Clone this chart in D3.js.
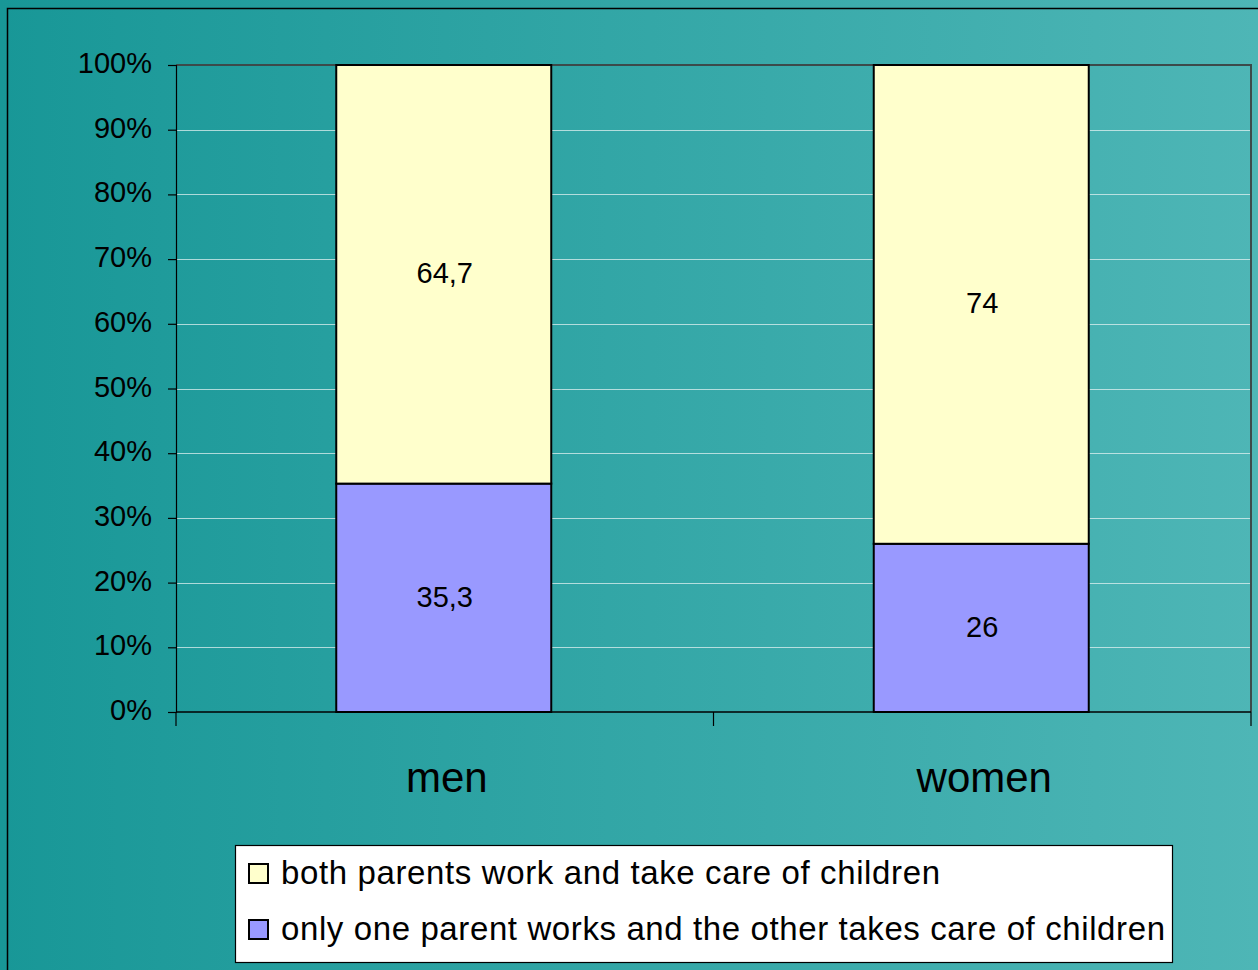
<!DOCTYPE html>
<html>
<head>
<meta charset="utf-8">
<script src="https://cdn.jsdelivr.net/npm/d3@7"></script>
<style>
  html, body { margin: 0; padding: 0; background: #2aa3a3; }
  svg { display: block; font-family: "Liberation Sans", Arial, sans-serif; }
</style>
</head>
<body>
<svg id="chart" width="1258" height="970"></svg>
<script>
// Chart data
const categories = ["men", "women"];
const onlyOneParent = [35.3, 26];
const bothParents = [64.7, 74];
const seriesLabels = [
  "both parents work and take care of children",
  "only one parent works and the other takes care of children"
];
const yTicks = [0, 10, 20, 30, 40, 50, 60, 70, 80, 90, 100];

const colors = { both: "#ffffcc", one: "#9999ff" };

const svg = d3.select("#chart");
const W = 1258, H = 970;
const plot = { left: 176, right: 1251, top: 65, bottom: 712 };

// Background gradient
const defs = svg.append("defs");
const grad = defs.append("linearGradient").attr("id", "bg")
  .attr("x1", "0%").attr("y1", "0%").attr("x2", "100%").attr("y2", "0%");
grad.append("stop").attr("offset", "0%").attr("stop-color", "#189797");
grad.append("stop").attr("offset", "100%").attr("stop-color", "#4eb6b6");
svg.append("rect").attr("width", W).attr("height", H).attr("fill", "url(#bg)");

// Outer frame
svg.append("path").attr("d", `M7.5,${H + 5} V8.5 H${W + 5}`)
  .attr("fill", "none").attr("stroke", "#000").attr("stroke-width", 1.5);

// Scales
const x = d3.scaleBand().domain(categories).range([plot.left, plot.right]);
const y = d3.scaleLinear().domain([0, 100]).range([plot.bottom, plot.top]);
const barW = x.bandwidth() * 0.4;

// Gridlines
svg.append("g").selectAll("line").data(yTicks.filter(d => d > 0 && d < 100)).join("line")
  .attr("x1", plot.left).attr("x2", plot.right)
  .attr("y1", d => Math.round(y(d)) + 0.5).attr("y2", d => Math.round(y(d)) + 0.5)
  .attr("stroke", "rgba(235,245,245,0.7)").attr("stroke-width", 1);

// Plot area frame (top and right)
svg.append("path")
  .attr("d", `M${plot.left},${y(100)} H${plot.right} V${plot.bottom}`)
  .attr("fill", "none").attr("stroke", "#3c4a4a").attr("stroke-width", 2);

// Stacked bars
const stackData = categories.map((c, i) => ({ cat: c, one: onlyOneParent[i], both: bothParents[i] }));
const stack = d3.stack().keys(["one", "both"])(stackData);
const fmt = d3.formatLocale({ decimal: ",", thousands: ".", grouping: [3], currency: ["", ""] }).format("~f");

const layers = svg.append("g").selectAll("g").data(stack).join("g")
  .attr("fill", d => colors[d.key]);
layers.selectAll("rect").data(d => d).join("rect")
  .attr("x", d => x(d.data.cat) + (x.bandwidth() - barW) / 2 - 1)
  .attr("y", d => y(d[1]))
  .attr("width", barW)
  .attr("height", d => y(d[0]) - y(d[1]))
  .attr("stroke", "#000").attr("stroke-width", 2);

// Segment value labels
const labels = svg.append("g").attr("font-size", 29).attr("text-anchor", "middle").attr("fill", "#000");
stack.forEach(layer => {
  layer.forEach(d => {
    labels.append("text")
      .attr("x", x(d.data.cat) + x.bandwidth() / 2)
      .attr("y", (y(d[0]) + y(d[1])) / 2)
      .attr("dy", "0.3em")
      .text(fmt(d[1] - d[0]));
  });
});

// Y axis
const yAxis = svg.append("g").attr("transform", `translate(${plot.left},0)`)
  .call(d3.axisLeft(y).tickValues(yTicks).tickFormat(d => d + "%").tickSize(8).tickPadding(16));
yAxis.select(".domain").attr("stroke", "#000").attr("stroke-width", 1.2);
yAxis.selectAll(".tick line").attr("stroke", "#000").attr("stroke-width", 1.2);
yAxis.selectAll(".tick text").attr("font-size", 29).attr("fill", "#000")
  .attr("font-family", "Liberation Sans, Arial, sans-serif").attr("dy", "0.26em");

// X axis line and category separators
svg.append("line").attr("x1", plot.left).attr("x2", plot.right)
  .attr("y1", plot.bottom).attr("y2", plot.bottom)
  .attr("stroke", "#000").attr("stroke-width", 1.5);
const sepX = categories.map(c => x(c)).concat([plot.right]);
svg.append("g").selectAll("line").data(sepX).join("line")
  .attr("x1", d => d).attr("x2", d => d)
  .attr("y1", plot.bottom).attr("y2", plot.bottom + 14)
  .attr("stroke", "#000").attr("stroke-width", 1.2);

// Category labels
svg.append("g").selectAll("text").data(categories).join("text")
  .attr("x", d => x(d) + x.bandwidth() / 2 + 2)
  .attr("y", 792)
  .attr("text-anchor", "middle").attr("font-size", 42).attr("fill", "#000")
  .text(d => d);

// Legend
const legend = svg.append("g");
legend.append("rect").attr("x", 235.5).attr("y", 845.5).attr("width", 937).attr("height", 117)
  .attr("fill", "#fff").attr("stroke", "#000").attr("stroke-width", 1.2);
const legendItems = [
  { label: seriesLabels[0], color: colors.both, width: 659 },
  { label: seriesLabels[1], color: colors.one, width: 884 }
];
legendItems.forEach((it, i) => {
  const rowY = 874 + i * 56;
  legend.append("rect").attr("x", 249).attr("y", rowY - 10).attr("width", 19).attr("height", 19)
    .attr("fill", it.color).attr("stroke", "#000").attr("stroke-width", 2);
  legend.append("text").attr("x", 281).attr("y", rowY + 10)
    .attr("font-size", 33).attr("fill", "#000")
    .attr("textLength", it.width).attr("lengthAdjust", "spacing")
    .text(it.label);
});
</script>
</body>
</html>
